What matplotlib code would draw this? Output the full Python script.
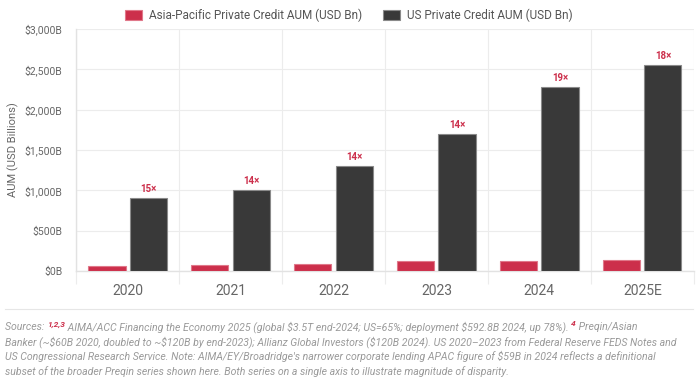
import matplotlib
matplotlib.use("Agg")
import matplotlib.pyplot as plt
import numpy as np

plt.rcParams["font.family"] = ["Roboto", "DejaVu Sans"]
plt.rcParams["text.parse_math"] = False

# Data
years = ["2020", "2021", "2022", "2023", "2024", "2025E"]
apac_aum = [60, 70, 90, 120, 120, 140]
us_aum = [900, 1000, 1300, 1700, 2280, 2550]
multiples = ["15×", "14×", "14×", "14×", "19×", "18×"]
y_ticks = [0, 500, 1000, 1500, 2000, 2500, 3000]

RED = "#cc2f4b"
DARK = "#393939"
GRID = "#ececec"
TEXT = "#666666"

W, H = 698, 387
fig = plt.figure(figsize=(W / 100, H / 100), dpi=100)
ax = fig.add_axes([0.109, 0.2997, 0.885, 0.6253])

x = np.arange(len(years))
bw = 0.36
ax.bar(x - 0.2, apac_aum, bw, color=RED, edgecolor="#e0788a", linewidth=0.8,
       label="Asia-Pacific Private Credit AUM (USD Bn)", zorder=3)
ax.bar(x + 0.2, us_aum, bw, color=DARK, edgecolor="#8a8a8a", linewidth=0.8,
       label="US Private Credit AUM (USD Bn)", zorder=3)

for xi, v, m in zip(x, us_aum, multiples):
    ax.annotate(m, (xi + 0.2, v), xytext=(0, 3), textcoords="offset points",
                ha="center", va="bottom", color=RED, fontsize=7, fontweight="bold")

ax.set_xlim(-0.5, len(years) - 0.5)
ax.set_ylim(0, 3000)
ax.set_yticks(y_ticks)
ax.set_yticklabels([f"${v:,}B" for v in y_ticks])
ax.set_xticks(x)
ax.set_xticklabels(years)
ax.set_xticks(np.arange(-0.5, len(years)), minor=True)

ax.tick_params(axis="y", length=0, pad=10, labelsize=7.5, labelcolor=TEXT)
ax.tick_params(axis="x", which="major", length=0, pad=9, labelsize=10, labelcolor="#666666")
ax.tick_params(axis="x", which="minor", length=9, width=0.8, color=GRID)

ax.grid(axis="y", color=GRID, linewidth=0.8, zorder=0)
ax.grid(axis="x", which="minor", color=GRID, linewidth=0.8, zorder=0)
for s in ["top", "right"]:
    ax.spines[s].set_visible(False)
for s in ["left", "bottom"]:
    ax.spines[s].set_color("#e2e2e2")
    ax.spines[s].set_linewidth(1.0)

ax.set_ylabel("AUM (USD Billions)", fontsize=8, color=TEXT, labelpad=4)

fig.legend(loc="upper center", bbox_to_anchor=(0.5, 1.005), ncol=2, frameon=False,
           fontsize=8.5, labelcolor="#555555", handlelength=1.4, handleheight=1.0,
           columnspacing=1.8, handletextpad=0.6)

# separator line
fig.add_artist(plt.Line2D([0.007, 0.993], [1 - 309 / H, 1 - 309 / H],
                          color="#e6e6e6", linewidth=0.8))

# sources note
note_kw = dict(fontsize=7.6, style="italic", color="#9a9a9a", va="baseline")
sup_kw = dict(fontsize=6, style="italic", fontweight="bold", color=RED, va="baseline")
x0 = 5 / W
lines_y = [1 - 330 / H, 1 - 345 / H, 1 - 360 / H, 1 - 375 / H]

# first line mixes plain text and red superscripts: lay pieces out left to right
pieces = [
    ("Sources: ", note_kw, 0),
    ("1,2,3", sup_kw, 3.5),
    (" AIMA/ACC Financing the Economy 2025 (global $3.5T end-2024; US=65%; "
     "deployment $592.8B 2024, up 78%). ", note_kw, 0),
    ("4", sup_kw, 3.5),
    (" Preqin/Asian", note_kw, 0),
]
renderer = fig.canvas.get_renderer()
cur_x = x0
for txt, kw, rise in pieces:
    t = fig.text(cur_x, lines_y[0] + rise / H, txt, **kw)
    bb = t.get_window_extent(renderer=renderer)
    cur_x += bb.width / W

fig.text(x0, lines_y[1], "Banker (~$60B 2020, doubled to ~$120B by end-2023); Allianz Global "
         "Investors ($120B 2024). US 2020–2023 from Federal Reserve FEDS Notes and", **note_kw)
fig.text(x0, lines_y[2], "US Congressional Research Service. Note: AIMA/EY/Broadridge's narrower "
         "corporate lending APAC figure of $59B in 2024 reflects a definitional", **note_kw)
fig.text(x0, lines_y[3], "subset of the broader Preqin series shown here. Both series on a "
         "single axis to illustrate magnitude of disparity.", **note_kw)

fig.savefig("out.png", dpi=100, facecolor="white")
